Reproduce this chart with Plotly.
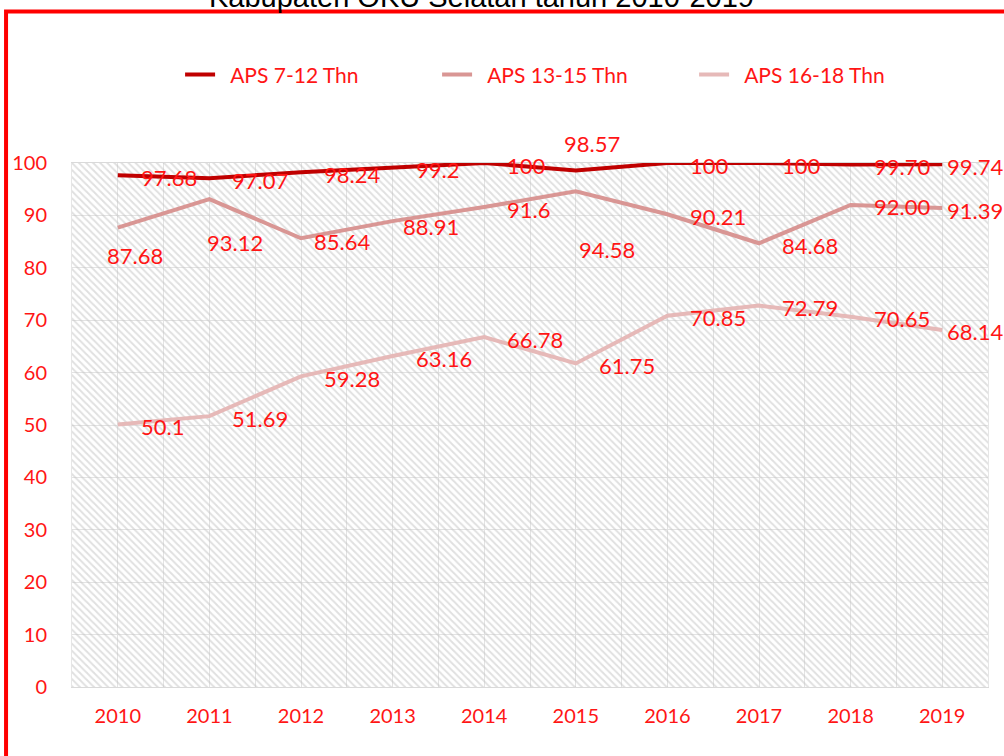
"""plot.py

APS (Angka Partisipasi Sekolah) chart, Kabupaten OKU Selatan 2010-2019.
"""
import plotly.graph_objects as go

years = [2010, 2011, 2012, 2013, 2014, 2015, 2016, 2017, 2018, 2019]

aps_7_12 = [97.68, 97.07, 98.24, 99.2, 100, 98.57, 100, 100, 99.70, 99.74]
aps_13_15 = [87.68, 93.12, 85.64, 88.91, 91.6, 94.58, 90.21, 84.68, 92.00, 91.39]
aps_16_18 = [50.1, 51.69, 59.28, 63.16, 66.78, 61.75, 70.85, 72.79, 70.65, 68.14]

# label text as printed on the chart
labels_7_12 = ['97.68', '97.07', '98.24', '99.2', '100', '98.57', '100', '100', '99.70', '99.74']
labels_13_15 = ['87.68', '93.12', '85.64', '88.91', '91.6', '94.58', '90.21', '84.68', '92.00', '91.39']
labels_16_18 = ['50.1', '51.69', '59.28', '63.16', '66.78', '61.75', '70.85', '72.79', '70.65', '68.14']

series_names = ['APS 7-12 Thn', 'APS 13-15 Thn', 'APS 16-18 Thn']
title_text = 'Kabupaten OKU Selatan tahun 2010-2019'

# styling
colors = ['#C00000', '#D99694', '#E6B9B8']
text_red = '#FF1515'
font_main = 'Lato'
grid = '#e3e3e3'

# default label offset (px, right of point / slightly down) and per-point tweaks
default_shift = (21, -2)
label_shift = [
    {5: (-14, 27), 9: (3, -2)},
    {0: (-13, -28), 1: (-4, -43), 2: (11, -3), 3: (8, -5), 5: (1, -58), 9: (3, -2)},
    {9: (3, -2)},
]

x_lo, x_hi = years[0] - 0.5, years[-1] + 0.5
y_lo, y_hi = 0, 100

traces = []

# hatched plot background
traces.append(go.Scatter(
    x=[x_lo, x_hi], y=[y_hi, y_hi],
    mode='none', fill='tozeroy',
    fillpattern=dict(shape='\\', fgcolor='#c2c2c2', bgcolor='rgba(0,0,0,0)',
                     size=5, solidity=0.4),
    showlegend=False, hoverinfo='skip'
))

all_values = [aps_7_12, aps_13_15, aps_16_18]
all_labels = [labels_7_12, labels_13_15, labels_16_18]

pad = '\u00a0\u00a0'
for name, vals, col in zip(series_names, all_values, colors):
    traces.append(go.Scatter(
        x=years, y=vals, mode='lines', name=pad + name,
        line=dict(color=col, width=4), cliponaxis=False
    ))

annotations = []
for k, (vals, labs) in enumerate(zip(all_values, all_labels)):
    for i, (yr, v, lab) in enumerate(zip(years, vals, labs)):
        dx, dy = label_shift[k].get(i, default_shift)
        annotations.append(dict(
            x=yr, y=v, xref='x', yref='y', text=lab, showarrow=False,
            xanchor='left', yanchor='middle', xshift=dx, yshift=dy,
            font=dict(family=font_main, size=22, color=text_red)
        ))

# title, partly cut off at the top of the picture
annotations.append(dict(
    x=0.447, y=1.317, xref='paper', yref='paper', text=title_text,
    showarrow=False, xanchor='center', yanchor='middle',
    font=dict(family='Liberation Sans', size=29, color='black')
))

fig = go.Figure(data=traces)

fig.update_layout(
    width=1004, height=756,
    margin=dict(l=72, r=16, t=163, b=69),
    paper_bgcolor='white', plot_bgcolor='white',
    showlegend=True,
    legend=dict(
        orientation='h', x=0.118, xanchor='left', y=1.168, yanchor='middle',
        font=dict(family=font_main, size=21, color=text_red),
        entrywidth=212, bgcolor='rgba(0,0,0,0)'
    ),
    annotations=annotations,
    shapes=[dict(
        type='rect', xref='paper', yref='paper',
        x0=-0.072, x1=1.04, y0=-0.18, y1=1.289,
        line=dict(color='#FF0000', width=4), fillcolor='rgba(0,0,0,0)', layer='above'
    )],
)

fig.update_xaxes(
    range=[x_lo, x_hi], tickmode='array', tickvals=years,
    ticktext=[str(y) for y in years],
    showgrid=True, gridcolor=grid, gridwidth=1,
    minor=dict(tick0=x_lo, dtick=1, showgrid=True, gridcolor=grid, gridwidth=1),
    showline=True, linecolor='#d9d9d9', linewidth=1, mirror=True,
    ticks='', ticklabelstandoff=11, zeroline=False,
    tickfont=dict(family=font_main, size=20, color=text_red)
)
fig.update_yaxes(
    range=[y_lo, y_hi], dtick=10, tick0=0,
    showgrid=True, gridcolor=grid, gridwidth=1,
    showline=True, linecolor='#e6e6e6', linewidth=1, mirror=True,
    ticks='', ticklabelstandoff=20, zeroline=False,
    tickfont=dict(family=font_main, size=20, color=text_red)
)

# page body has a default 8px margin; drop it so the figure fills the window
fig.write_html("out.html", config={'displayModeBar': False},
               post_script="document.body.style.margin='0';")
